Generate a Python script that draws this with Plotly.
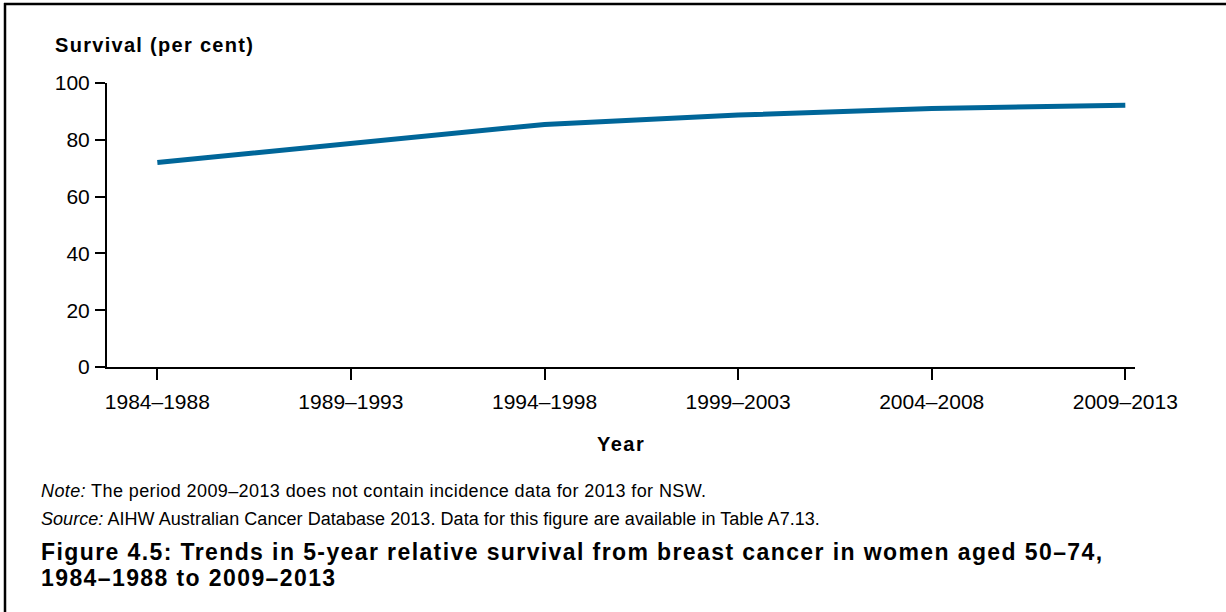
import json
import plotly.graph_objects as go

periods = ["1984–1988", "1989–1993", "1994–1998", "1999–2003", "2004–2008", "2009–2013"]
survival = [72.0, 78.6, 85.4, 88.7, 91.0, 92.2]
y_ticks = [0, 20, 40, 60, 80, 100]

W, H = 1226, 612
L, R, T, B = 107, 91, 83, 245
PW, PH = W - L - R, H - T - B

def px(x):
    return (x - L) / PW

def py(y):
    return (H - B - y) / PH

FONT = "Liberation Sans, Arial, sans-serif"

fig = go.Figure()
fig.add_trace(go.Scatter(
    x=list(range(len(periods))), y=survival, mode="lines",
    line=dict(color="#006699", width=5), hoverinfo="skip", showlegend=False,
))

fig.update_layout(
    width=W, height=H,
    margin=dict(l=L, r=R, t=T, b=B, autoexpand=False),
    paper_bgcolor="white", plot_bgcolor="white",
    font=dict(family=FONT, color="black", size=21),
    xaxis=dict(
        range=[-0.26, 5.05], tickmode="array", tickvals=list(range(len(periods))),
        ticktext=periods, showline=True, linecolor="black", linewidth=2,
        ticks="outside", ticklen=11, tickwidth=2, tickcolor="black",
        showgrid=False, zeroline=False, fixedrange=True,
        tickfont=dict(size=21, family=FONT, color="black"),
        ticklabelstandoff=4,
    ),
    yaxis=dict(
        range=[0, 100], tickmode="array", tickvals=y_ticks,
        ticktext=[str(v) for v in y_ticks], showline=True, linecolor="black", linewidth=2,
        ticks="outside", ticklen=10, tickwidth=2, tickcolor="black",
        showgrid=False, zeroline=False, fixedrange=True,
        tickfont=dict(size=21, family=FONT, color="black"),
        ticklabelstandoff=1,
    ),
    shapes=[
        dict(type="line", xref="paper", yref="paper", x0=px(4), x1=px(1226), y0=py(4), y1=py(4),
             line=dict(color="black", width=2.5)),
        dict(type="line", xref="paper", yref="paper", x0=px(5), x1=px(5), y0=py(3), y1=py(612),
             line=dict(color="black", width=2.5)),
    ],
)

spacings = []

def note(text, x, y, size, xanchor="left", bold=False, spacing=0.0):
    fig.add_annotation(
        text=f"<b>{text}</b>" if bold else text, xref="paper", yref="paper",
        x=px(x), y=py(y), xanchor=xanchor, yanchor="middle", showarrow=False,
        font=dict(family=FONT, size=size, color="black"), align="left",
    )
    spacings.append(spacing)

note("Survival (per cent)", 53, 45, 20, bold=True, spacing=1.3)
note("Year", 618, 444, 20, xanchor="center", bold=True, spacing=1.5)
note("<i>Note:</i> The period 2009–2013 does not contain incidence data for 2013 for NSW.", 39, 491, 18, spacing=0.4)
note("<i>Source:</i> AIHW Australian Cancer Database 2013. Data for this figure are available in Table A7.13.", 39, 519, 18, spacing=0.05)
note("Figure 4.5: Trends in 5-year relative survival from breast cancer in women aged 50–74,", 39, 552, 23, bold=True, spacing=1.4)
note("1984–1988 to 2009–2013", 39, 578, 23, bold=True, spacing=1.4)

post = (
    "var st=document.createElement('style');"
    "st.textContent='html,body{margin:0;padding:0;overflow:hidden;scrollbar-width:none;}"
    "::-webkit-scrollbar{display:none;width:0;height:0;}';"
    "document.head.appendChild(st);"
    "var sp=" + json.dumps(spacings) + ";"
    "document.querySelectorAll('.annotation-text').forEach(function(e,i){"
    "if(sp[i]){e.style.letterSpacing=sp[i]+'px';}});"
)

fig.write_html("out.html", post_script=post, config={"displayModeBar": False})
